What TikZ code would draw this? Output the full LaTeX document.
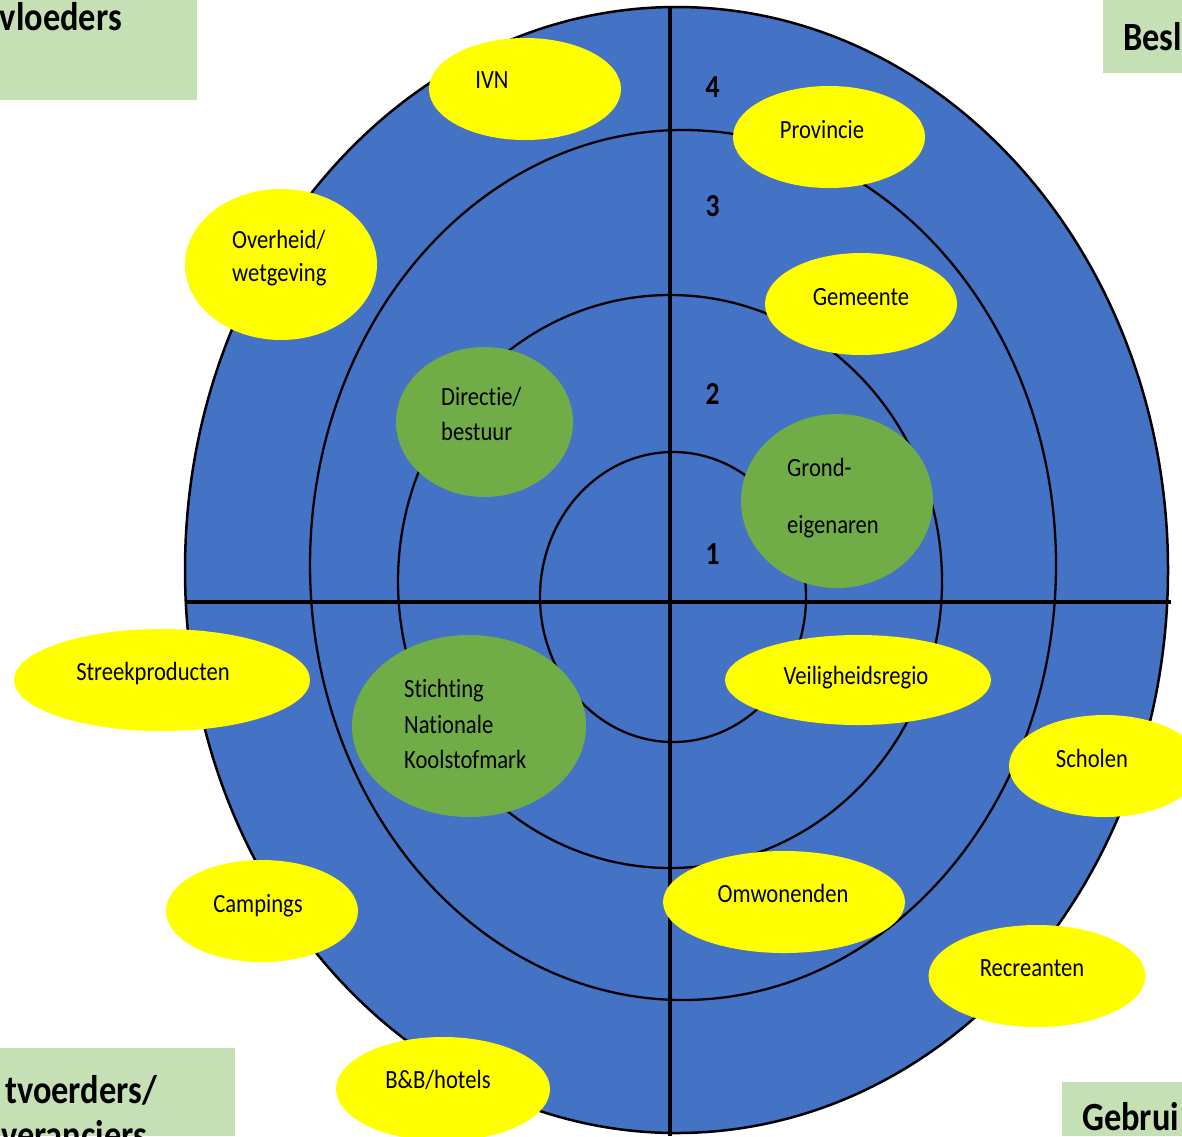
\documentclass[tikz,border=0pt]{standalone}
\usepackage{fontspec}
\setmainfont{Carlito}[FakeStretch=0.86, Ligatures={NoCommon}]
\usetikzlibrary{shapes.geometric}
\definecolor{ringblue}{HTML}{4472C4}
\definecolor{tagyellow}{HTML}{FFFF00}
\definecolor{coregreen}{HTML}{70AD47}
\definecolor{palegreen}{HTML}{C5E0B4}
\begin{document}
\begin{tikzpicture}[x=1pt,y=-1pt,
  ringline/.style={draw=black, line width=2.3pt},
  crossline/.style={draw=black, line width=4pt},
  party/.style={ellipse, fill=tagyellow, inner sep=0pt},
  core/.style={ellipse, fill=coregreen, inner sep=0pt},
  lab/.style={font=\fontsize{26.3}{31}\selectfont, inner sep=0pt, anchor=base},
  labw/.style={lab, anchor=base west},
  ringno/.style={font=\bfseries\fontsize{32}{38}\selectfont, inner sep=0pt, anchor=base},
  corner/.style={fill=palegreen, draw=none},
  head/.style={font=\bfseries\fontsize{40}{48}\selectfont, inner sep=0pt}
]
\useasboundingbox (0,0) rectangle (1182,1136);
\clip (0,0) rectangle (1182,1136);

% quadrant labels in the corners
\fill[corner] (0,0) rectangle (197,100);
\fill[corner] (1103,0) rectangle (1182,73);
\fill[corner] (0,1048) rectangle (235,1136);
\fill[corner] (1062,1082) rectangle (1182,1136);
\node[head, anchor=base east] (hTL) at (122,30) {vloeders};
\node[head, anchor=base west] (hTR) at (1123,50) {Besl};
\node[head, anchor=base east] (hBL1) at (157,1103) {tvoerders/};
\node[head, anchor=base west] (hBL2) at (1,1148) {veranciers};
\node[head, anchor=base west] (hBR) at (1082,1130) {Gebrui};

% target with its rings
\filldraw[fill=ringblue, draw=black, line width=2.5pt] (676.5,570) ellipse [x radius=491.5pt, y radius=563pt];
\draw[ringline] (683,565) ellipse [x radius=373pt, y radius=435pt];
\draw[ringline] (670,581.5) ellipse [x radius=272pt, y radius=286.5pt];
\draw[ringline] (673,597) ellipse [x radius=133pt, y radius=145pt];
\coordinate (vTop) at (670,8);
\coordinate (vBot) at (670,1136);
\coordinate (hL) at (185,602);
\coordinate (hR) at (1171,602);
\draw[crossline] (vTop) -- (vBot);
\draw[crossline] (hL) -- (hR);

% ring numbers
\node[ringno] (n4) at (712.5,97) {4};
\node[ringno] (n3) at (712.5,216) {3};
\node[ringno] (n2) at (712.5,404) {2};
\node[ringno] (n1) at (712.5,564) {1};

% stakeholders
\node[party, minimum width=192pt, minimum height=102pt] (ivn) at (525,89) {};
\node[lab] (ivnT) at (492,88) {IVN};

\node[party, minimum width=192pt, minimum height=102pt] (prov) at (829,137) {};
\node[lab] (provT) at (822,138) {Provincie};

\node[party, minimum width=192pt, minimum height=151pt] (overh) at (281,264.5) {};
\node[labw] (overhT1) at (232,248) {Overheid/};
\node[labw] (overhT2) at (232,281) {wetgeving};

\node[party, minimum width=192pt, minimum height=102pt] (gem) at (861,304) {};
\node[lab] (gemT) at (861,305) {Gemeente};

\node[core, minimum width=177pt, minimum height=150pt] (dir) at (484.5,422) {};
\node[labw] (dirT1) at (441,405) {Directie/};
\node[labw] (dirT2) at (441,440) {bestuur};

\node[core, minimum width=192pt, minimum height=174pt] (grond) at (837,501) {};
\node[labw] (grondT1) at (787,476) {Grond-};
\node[labw] (grondT2) at (787,533) {eigenaren};

\node[party, minimum width=296pt, minimum height=102pt] (streek) at (162,680) {};
\node[lab] (streekT) at (153,680) {Streekproducten};

\node[core, minimum width=234pt, minimum height=182pt] (snk) at (469,726) {};
\node[labw] (snkT1) at (404,697) {Stichting};
\node[labw] (snkT2) at (404,733) {Nationale};
\node[labw] (snkT3) at (404,768) {Koolstofmark};

\node[party, minimum width=266pt, minimum height=90pt] (veil) at (858,680) {};
\node[lab] (veilT) at (856,684) {Veiligheidsregio};

\node[party, minimum width=192pt, minimum height=102pt] (schol) at (1105,766) {};
\node[lab] (scholT) at (1092,767) {Scholen};

\node[party, minimum width=192pt, minimum height=102pt] (camp) at (262,911) {};
\node[lab] (campT) at (258,912) {Campings};

\node[party, minimum width=242pt, minimum height=102pt] (omw) at (784,902) {};
\node[lab] (omwT) at (783,902) {Omwonenden};

\node[party, minimum width=217pt, minimum height=102pt] (recr) at (1037,976) {};
\node[lab] (recrT) at (1032,976) {Recreanten};

\node[party, minimum width=214pt, minimum height=104pt] (bnb) at (443,1089) {};
\node[lab] (bnbT) at (438,1088) {B\&B/hotels};
\end{tikzpicture}
\end{document}
